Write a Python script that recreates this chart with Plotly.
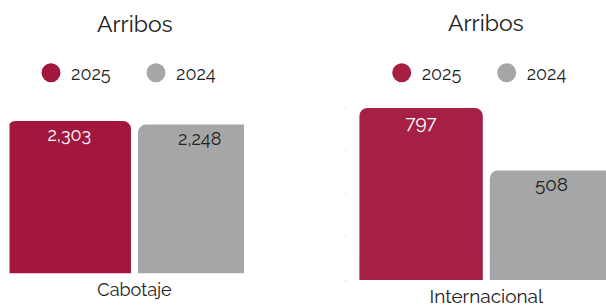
import plotly.graph_objects as go

# ---- data ----
categories = ["Cabotaje", "Internacional"]
series_names = ["2025", "2024"]
values_2025 = [2303, 797]
values_2024 = [2248, 508]
panel_titles = ["Arribos", "Arribos"]

# ---- style ----
W, H = 606, 306
FONT = "Raleway, Lato, sans-serif"
RED_L = "#A3173F"
RED_R = "#A52044"
GRAY = "#A6A6A6"
TXT = "#222222"
CLEAR = "rgba(0,0,0,0)"

def fx(p):
    return p / W

def fy(p):
    return 1 - p / H

# bar geometry (pixels) -> axis ranges
bar_w = 123.4
gap = 7.0
slot = bar_w + gap
U = 2 * slot  # pixels per category unit (bargap = 0)

fig = go.Figure()

panels = [
    dict(cat=categories[0], v25=values_2025[0], v24=values_2024[0], red=RED_L,
         xa="x", ya="y", fs=18),
    dict(cat=categories[1], v25=values_2025[1], v24=values_2024[1], red=RED_R,
         xa="x2", ya="y2", fs=19),
]

for p in panels:
    for name, val, col, tcol in [(series_names[0], p["v25"], p["red"], "white"),
                                 (series_names[1], p["v24"], GRAY, TXT)]:
        # visible rounded bar
        fig.add_trace(go.Bar(x=[p["cat"]], y=[val], name=name, offsetgroup=name,
                             marker=dict(color=col, cornerradius=8, line=dict(width=0)),
                             showlegend=False, xaxis=p["xa"], yaxis=p["ya"],
                             hoverinfo="skip"))
        # transparent square bar carrying the value label
        fig.add_trace(go.Bar(x=[p["cat"]], y=[val], name=name, offsetgroup=name,
                             marker=dict(color=CLEAR, line=dict(width=0)),
                             texttemplate="%{y:,}", textposition="inside",
                             insidetextanchor="end", textangle=0,
                             textfont=dict(color=tcol, size=p["fs"], family=FONT),
                             showlegend=False, xaxis=p["xa"], yaxis=p["ya"],
                             hoverinfo="skip"))

# legend entries (circle markers)
for lg, xa, ya, reds in [("legend", "x", "y", RED_L), ("legend2", "x2", "y2", RED_R)]:
    for name, col in zip(series_names, [reds, GRAY]):
        fig.add_trace(go.Scatter(x=[None], y=[None], mode="markers", name=name,
                                 marker=dict(color=col, size=16, symbol="circle",
                                             line=dict(color=col, width=3)),
                                 legend=lg, xaxis=xa, yaxis=ya, showlegend=True))

# axis geometry
L_left, L_right = 9.5, 244.0
L_center = 134.5
R_left, R_right = 347.0, 606.0
R_center = 486.3

legend_common = dict(orientation="h", font=dict(size=18, color=TXT, family=FONT),
                     bgcolor="rgba(0,0,0,0)", itemsizing="trace", entrywidth=60,
                     xanchor="left", yanchor="middle", traceorder="normal",
                     itemclick=False, itemdoubleclick=False)

fig.update_layout(
    width=W, height=H,
    margin=dict(l=0, r=0, t=0, b=0),
    paper_bgcolor="white", plot_bgcolor="white",
    barmode="group", bargap=0, bargroupgap=gap / slot,
    font=dict(family=FONT, color=TXT),
    xaxis=dict(domain=[fx(L_left), fx(L_right)], type="category",
               range=[(L_left - L_center) / U, (L_right - L_center) / U],
               showgrid=False, zeroline=False, showline=False, ticks="",
               ticklabelstandoff=3,
               tickfont=dict(size=18, color=TXT, family=FONT), fixedrange=True),
    yaxis=dict(domain=[fy(273.5), fy(107.9)], range=[0, 2500],
               showgrid=False, zeroline=False, showline=False, showticklabels=False,
               ticks="", fixedrange=True),
    xaxis2=dict(domain=[fx(R_left), fx(R_right)], type="category", anchor="y2",
                range=[(R_left - R_center) / U, (R_right - R_center) / U],
                showgrid=False, zeroline=False, showline=False, ticks="",
                ticklabelstandoff=3,
                tickfont=dict(size=19, color=TXT, family=FONT), fixedrange=True),
    yaxis2=dict(domain=[fy(280), fy(85.8)], range=[0, 900], anchor="x2",
                showgrid=False, zeroline=False, showline=False, showticklabels=False,
                ticks="outside", ticklen=2, tickwidth=1, tickcolor="#ececec",
                tickvals=[0, 200, 400, 600, 800], fixedrange=True),
    legend=dict(x=fx(31), y=fy(73), **legend_common),
    legend2=dict(x=fx(381.7), y=fy(73), **legend_common),
    annotations=[
        dict(text=panel_titles[0], x=fx(135), y=fy(23.5), xref="paper", yref="paper",
             xanchor="center", yanchor="middle", showarrow=False,
             font=dict(size=23, color=TXT, family=FONT)),
        dict(text=panel_titles[1], x=fx(486), y=fy(22.5), xref="paper", yref="paper",
             xanchor="center", yanchor="middle", showarrow=False,
             font=dict(size=23, color=TXT, family=FONT)),
    ],
)

fig.write_html("out.html", config={"displayModeBar": False},
               post_script="document.body.style.margin='0';document.body.style.overflow='hidden';")
